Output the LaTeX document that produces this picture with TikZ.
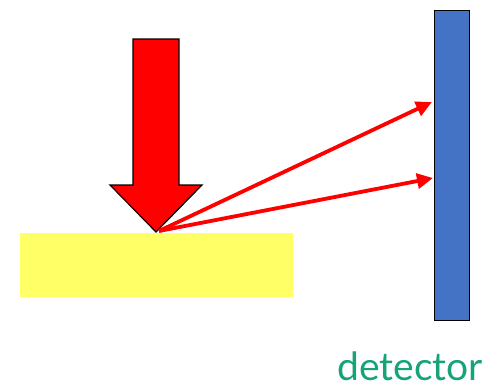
\documentclass[tikz,border=0pt]{standalone}
\usepackage{fontspec}
\setmainfont{Lato}
\usetikzlibrary{arrows.meta}
\definecolor{padyellow}{RGB}{255,255,102}
\definecolor{detblue}{RGB}{68,114,196}
\definecolor{detgreen}{RGB}{22,163,122}
\tikzset{
  beam/.style={draw=red, line width=3.8pt, -{Triangle[length=16pt,width=15pt]}},
  bigarrow/.style={fill=red, draw=black, line width=1.2pt, line join=miter},
}
\begin{document}
\begin{tikzpicture}[x=1pt,y=-1pt]
\useasboundingbox (0,0) rectangle (495,389);
\fill[padyellow] (20,233) rectangle (293,297);
\node[draw=black, fill=detblue, line width=1.2pt, minimum width=35pt, minimum height=310pt, inner sep=0pt, anchor=north west] (det) at (434,10) {};
\draw[bigarrow] (133,39) -- (179,39) -- (179,185) -- (202,185) -- (156,232) -- (110,185) -- (133,185) -- cycle;
\coordinate (src) at (159,231);
\coordinate (t1) at (432,102);
\coordinate (t2) at (433,178);
\draw[beam] (src) -- (t1);
\draw[beam] (src) -- (t2);
\node[text=detgreen, font=\fontsize{39}{39}\selectfont, anchor=base, inner sep=0pt] (lbl) at (410,380) {detector};
\end{tikzpicture}
\end{document}
